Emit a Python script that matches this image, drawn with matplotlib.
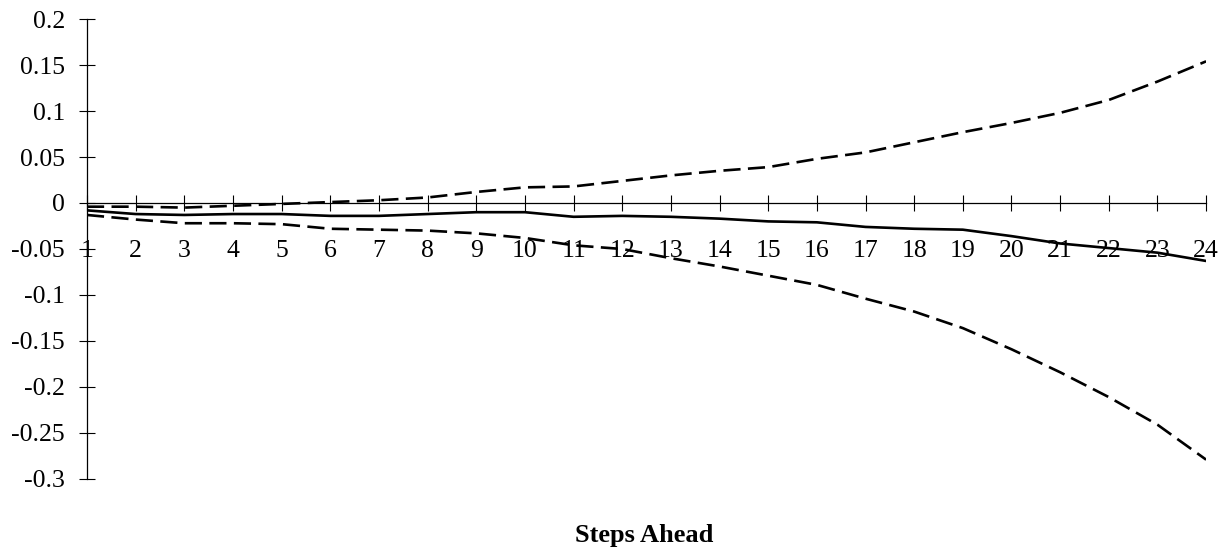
"""Forecast path with upper/lower bands over 24 steps ahead."""
import matplotlib
matplotlib.use("Agg")
import matplotlib.pyplot as plt

steps = list(range(1, 25))
forecast = [-0.008, -0.012, -0.013, -0.012, -0.012, -0.014, -0.014, -0.012,
            -0.010, -0.010, -0.015, -0.014, -0.015, -0.017, -0.020, -0.021,
            -0.026, -0.028, -0.029, -0.036, -0.044, -0.049, -0.054, -0.063]
upper = [-0.004, -0.004, -0.005, -0.003, -0.001, 0.001, 0.003, 0.006,
         0.012, 0.017, 0.018, 0.024, 0.030, 0.035, 0.039, 0.048,
         0.055, 0.066, 0.077, 0.087, 0.098, 0.112, 0.132, 0.154]
lower = [-0.013, -0.018, -0.022, -0.022, -0.023, -0.028, -0.029, -0.030,
         -0.033, -0.038, -0.046, -0.050, -0.060, -0.069, -0.079, -0.089,
         -0.104, -0.118, -0.136, -0.159, -0.184, -0.211, -0.241, -0.279]
y_ticks = [0.2, 0.15, 0.1, 0.05, 0, -0.05, -0.1, -0.15, -0.2, -0.25, -0.3]
y_labels = ["0.2", "0.15", "0.1", "0.05", "0", "-0.05", "-0.1", "-0.15",
            "-0.2", "-0.25", "-0.3"]

plt.rcParams["font.family"] = ["Liberation Serif", "DejaVu Serif"]
plt.rcParams["font.size"] = 18.5

fig = plt.figure(figsize=(12.32, 5.51), dpi=100)
ax = fig.add_axes([0.0706, 0.1307, 0.9084, 0.8348])

ax.plot(steps, upper, color="black", lw=1.9, dashes=(6.5, 2.8))
ax.plot(steps, lower, color="black", lw=1.9, dashes=(6.5, 2.8))
ax.plot(steps, forecast, color="black", lw=1.9)

ax.set_xlim(1, 24)
ax.set_ylim(-0.3, 0.2)
ax.set_yticks(y_ticks)
ax.set_yticklabels(y_labels)
ax.set_xticks(steps)
ax.set_xticklabels([str(s) for s in steps])

for side in ("top", "right"):
    ax.spines[side].set_visible(False)
ax.spines["bottom"].set_position(("data", 0))
ax.spines["left"].set_linewidth(0.9)
ax.spines["bottom"].set_linewidth(0.9)
ax.tick_params(axis="x", direction="inout", length=11, width=0.8, pad=21)
ax.tick_params(axis="y", direction="inout", length=12, width=0.8, pad=10)

fig.text(0.523, 0.029, "Steps Ahead", ha="center", va="center",
         fontweight="bold", fontsize=19)

fig.savefig("out.png", dpi=100)
